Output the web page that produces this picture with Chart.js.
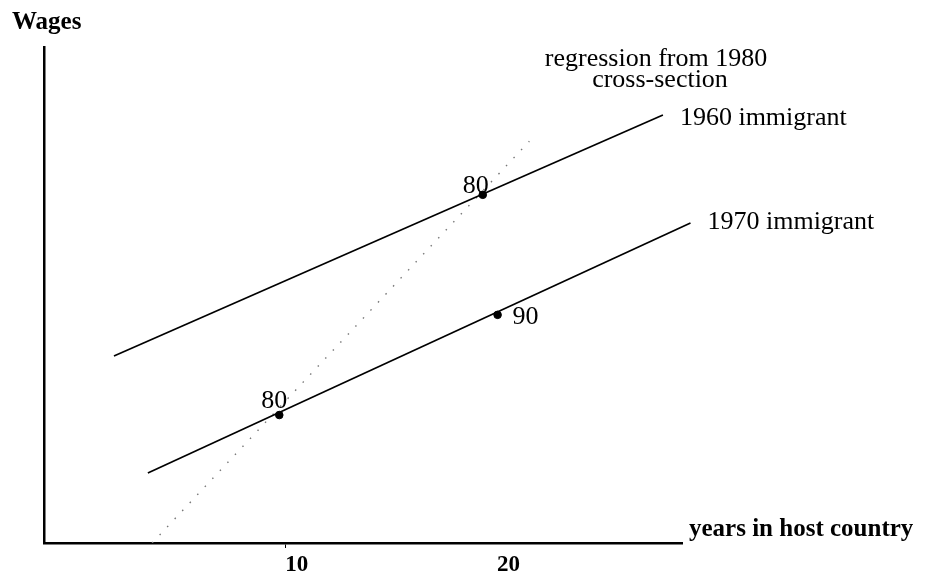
<!DOCTYPE html>
<html>
<head>
<meta charset="utf-8">
<script src="https://cdn.jsdelivr.net/npm/chart.js@4"></script>
<style>
  html, body { margin: 0; padding: 0; background: #fff; }
  #wrap { width: 938px; height: 573px; position: relative; }
</style>
</head>
<body>
<div id="wrap"><canvas id="chart"></canvas></div>
<script>
// x = years in host country, y = wages (arbitrary units)
const X_TICKS = [10, 20];

const line1960X = [1.9, 27.8];
const line1960Y = [37.7, 86.3];
const line1970X = [3.5, 29.1];
const line1970Y = [14.1, 64.5];

// dotted regression line from the 1980 cross-section
const regressionX = [3.7, 21.5];
const regressionY = [0, 81.0];

// observed points, labelled by census year
const obsX = [19.3, 9.7, 20.0];
const obsY = [70.2, 25.8, 46.0];
const obsLabels = ['80', '80', '90'];

const SERIES_LABELS = ['1960 immigrant', '1970 immigrant'];

const SERIF = '"Liberation Serif", "DejaVu Serif", serif';

const zip = (xs, ys) => xs.map((x, i) => ({ x, y: ys[i] }));

// draws all the free text of the figure
const figureText = {
  id: 'figureText',
  afterDatasetsDraw(chart) {
    const { ctx, chartArea } = chart;
    ctx.save();
    ctx.fillStyle = '#000';
    ctx.textBaseline = 'middle';

    // census year next to each dot
    const offsets = [[-7, -9], [-5, -14], [28, 2]];
    ctx.font = `26px ${SERIF}`;
    ctx.textAlign = 'center';
    chart.getDatasetMeta(3).data.forEach((pt, i) => {
      ctx.fillText(obsLabels[i], pt.x + offsets[i][0], pt.y + offsets[i][1]);
    });

    // cohort names at the end of each line
    ctx.textAlign = 'left';
    [[0, 3], [1, -1]].forEach(([idx, dy]) => {
      const pts = chart.getDatasetMeta(idx).data;
      const last = pts[pts.length - 1];
      ctx.fillText(SERIES_LABELS[idx], last.x + 17, last.y + dy);
    });

    ctx.textAlign = 'center';
    ctx.fillText('regression from 1980', 656, 59);
    ctx.fillText('cross-section', 660, 80);

    ctx.textBaseline = 'alphabetic';
    ctx.font = `bold 25px ${SERIF}`;
    ctx.textAlign = 'left';
    ctx.fillText('Wages', 12, 29);
    ctx.fillText('years in host country', chartArea.right + 7, 536);
    ctx.restore();
  }
};

new Chart(document.getElementById('chart'), {
  type: 'scatter',
  data: {
    datasets: [
      {
        label: SERIES_LABELS[0],
        data: zip(line1960X, line1960Y),
        showLine: true, borderColor: '#000', borderWidth: 1.7, pointRadius: 0, clip: false
      },
      {
        label: SERIES_LABELS[1],
        data: zip(line1970X, line1970Y),
        showLine: true, borderColor: '#000', borderWidth: 1.7, pointRadius: 0, clip: false
      },
      {
        label: 'regression from 1980 cross-section',
        data: zip(regressionX, regressionY),
        showLine: true, borderColor: '#777', borderWidth: 1.4, borderDash: [1.5, 9.5], pointRadius: 0
      },
      {
        label: 'observations',
        data: zip(obsX, obsY),
        pointRadius: 3.8, backgroundColor: '#000', borderColor: '#000', clip: false
      }
    ]
  },
  options: {
    responsive: true,
    maintainAspectRatio: false,
    animation: false,
    layout: { padding: { left: 44, top: 47, right: 256, bottom: 0 } },
    plugins: { legend: { display: false }, tooltip: { enabled: false } },
    scales: {
      x: {
        type: 'linear', min: -1.4, max: 28.7,
        afterBuildTicks: s => { s.ticks = X_TICKS.map(v => ({ value: v })); },
        afterFit: s => { s.height = 30; },
        grid: {
          display: true, drawOnChartArea: false, drawTicks: true, tickLength: 5,
          tickColor: c => (c.tick && c.tick.value === 10 ? '#000' : 'rgba(0,0,0,0)')
        },
        border: { display: true, color: '#000', width: 2.5 },
        ticks: {
          color: '#000', padding: 3, labelOffset: 11, maxRotation: 0,
          font: { family: SERIF, size: 23, weight: 'bold' }
        }
      },
      y: {
        min: 0, max: 100,
        afterFit: s => { s.width = 0; },
        ticks: { display: false },
        grid: { display: false },
        border: { display: true, color: '#000', width: 2.5 }
      }
    }
  },
  plugins: [figureText]
});
</script>
</body>
</html>
